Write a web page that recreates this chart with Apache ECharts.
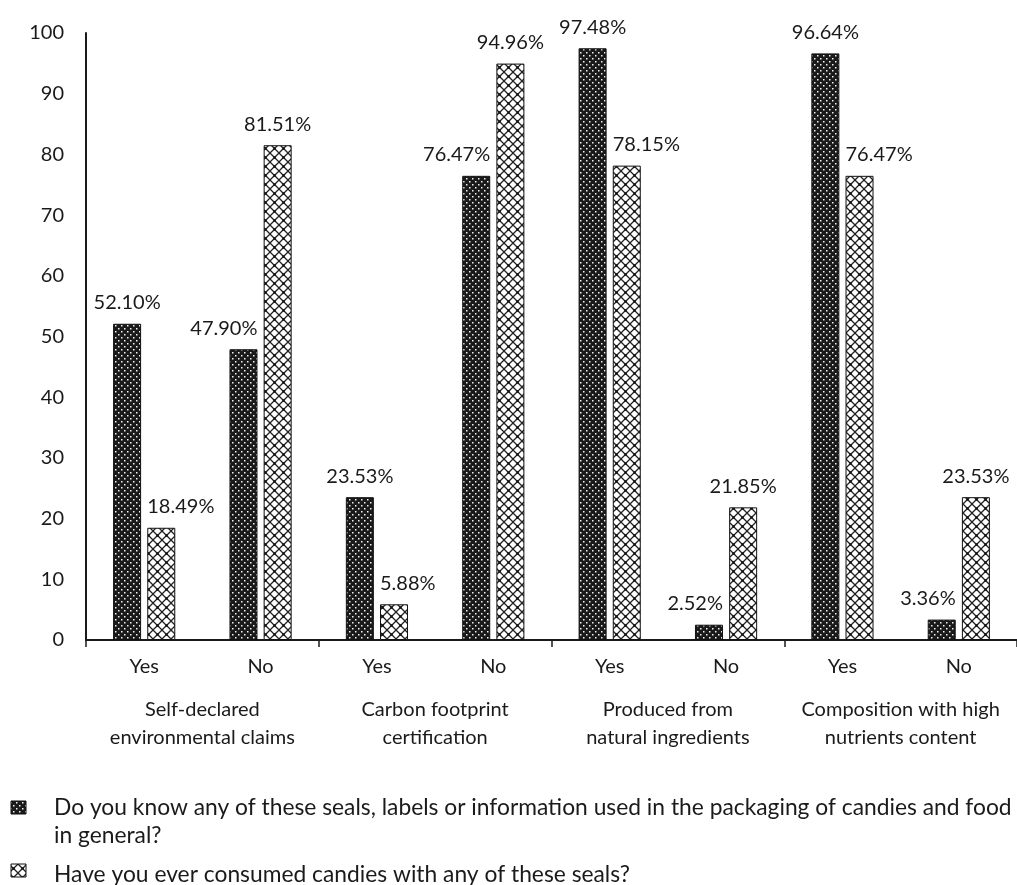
<!DOCTYPE html>
<html>
<head>
<meta charset="utf-8">
<script src="https://cdn.jsdelivr.net/npm/echarts@6/dist/echarts.min.js"></script>
<style>
  html, body { margin: 0; padding: 0; background: #fff; }
  #chart { width: 1017px; height: 885px; }
</style>
</head>
<body>
<div id="chart"></div>
<script>
// Answer categories (two per seal type) and seal type groups
const answers = ['Yes', 'No', 'Yes', 'No', 'Yes', 'No', 'Yes', 'No'];
const sealGroups = [
  'Self-declared\nenvironmental claims',
  'Carbon footprint\ncertification',
  'Produced from\nnatural ingredients',
  'Composition with high\nnutrients content'
];
// Percent of respondents
const knowSeals = [52.10, 47.90, 23.53, 76.47, 97.48, 2.52, 96.64, 3.36];
const consumedSeals = [18.49, 81.51, 5.88, 94.96, 78.15, 21.85, 76.47, 23.53];
const yTicks = { min: 0, max: 100, step: 10 };
const legendTexts = [
  'Do you know any of these seals, labels or information used in the packaging of candies and food\nin general?',
  'Have you ever consumed candies with any of these seals?'
];

const FONT = 'Lato';

// Dark fill with a staggered grid of white dots
function dotPattern() {
  const c = document.createElement('canvas');
  c.width = 6; c.height = 6;
  const g = c.getContext('2d');
  g.fillStyle = '#1a1a1a';
  g.fillRect(0, 0, 6, 6);
  g.fillStyle = '#f2f2f2';
  g.fillRect(1, 1, 1.5, 1.5);
  g.fillRect(4, 4, 1.5, 1.5);
  return c;
}

// White fill with a diagonal cross-hatch
function hatchPattern() {
  const s = 9;
  const c = document.createElement('canvas');
  c.width = s; c.height = s;
  const g = c.getContext('2d');
  g.fillStyle = '#ffffff';
  g.fillRect(0, 0, s, s);
  g.strokeStyle = '#222222';
  g.lineWidth = 1.3;
  g.beginPath();
  g.moveTo(0, 0); g.lineTo(s, s);
  g.moveTo(s, 0); g.lineTo(0, s);
  g.stroke();
  g.fillStyle = '#111';
  g.fillRect(s / 2 - 1.2, s / 2 - 1.2, 2.4, 2.4);
  return c;
}

const darkFill = { image: dotPattern(), repeat: 'repeat' };
const lightFill = { image: hatchPattern(), repeat: 'repeat' };

// A value label moves sideways, flush with its bar's outer edge,
// when the neighbouring bar of the same answer is taller.
function sideShift(seriesIndex, i) {
  const own = seriesIndex === 0 ? knowSeals[i] : consumedSeals[i];
  const other = seriesIndex === 0 ? consumedSeals[i] : knowSeals[i];
  if (other <= own) return 0;
  return seriesIndex === 0 ? -1 : 1;
}

const chart = echarts.init(document.getElementById('chart'), null, { renderer: 'canvas' });

const labelStyle = {
  show: true,
  position: 'top',
  distance: 11,
  fontFamily: FONT,
  fontSize: 20,
  color: '#1a1a1a',
  formatter: p => p.value.toFixed(2) + '%'
};

function labelLayout(params) {
  const side = sideShift(params.seriesIndex, params.dataIndex);
  const r = params.rect, lr = params.labelRect;
  if (side < 0) return { dx: (r.x + r.width) - (lr.x + lr.width) };
  if (side > 0) return { dx: r.x - lr.x };
  return {};
}

chart.setOption({
  backgroundColor: '#ffffff',
  animation: false,
  textStyle: { fontFamily: FONT },
  grid: { left: 86, right: -9, top: 33, bottom: 245, containLabel: false },
  xAxis: [
    {
      type: 'category',
      data: answers,
      position: 'bottom',
      axisLine: { show: true, lineStyle: { color: '#1a1a1a', width: 2 } },
      axisTick: { show: false },
      axisLabel: { interval: 0, fontFamily: FONT, fontSize: 20, color: '#1a1a1a', margin: 17 }
    },
    {
      type: 'category',
      data: sealGroups,
      position: 'bottom',
      axisLine: { show: false },
      axisTick: { show: true, interval: 0, length: 7, lineStyle: { color: '#1a1a1a', width: 1.5 } },
      axisLabel: { interval: 0, fontFamily: FONT, fontSize: 20, color: '#1a1a1a', margin: 56, lineHeight: 28 }
    }
  ],
  yAxis: {
    type: 'value',
    min: yTicks.min,
    max: yTicks.max,
    interval: yTicks.step,
    axisLine: { show: true, lineStyle: { color: '#1a1a1a', width: 2 } },
    axisTick: { show: false },
    splitLine: { show: false },
    axisLabel: { fontFamily: FONT, fontSize: 20, color: '#1a1a1a', margin: 22 }
  },
  series: [
    {
      name: legendTexts[0],
      type: 'bar',
      xAxisIndex: 0,
      data: knowSeals,
      barWidth: 28,
      barGap: '22%',
      itemStyle: { color: darkFill, borderColor: '#111', borderWidth: 1 },
      label: labelStyle,
      labelLayout: labelLayout
    },
    {
      name: legendTexts[1],
      type: 'bar',
      xAxisIndex: 0,
      data: consumedSeals,
      barWidth: 28,
      itemStyle: { color: lightFill, borderColor: '#111', borderWidth: 1 },
      label: labelStyle,
      labelLayout: labelLayout
    }
  ],
  graphic: [
    {
      type: 'rect',
      shape: { x: 11, y: 801, width: 15, height: 13 },
      style: { fill: darkFill, stroke: '#111', lineWidth: 1 }
    },
    {
      type: 'text',
      left: 54, top: 794,
      style: { text: legendTexts[0], font: '22.8px ' + FONT, fill: '#1a1a1a', lineHeight: 28 }
    },
    {
      type: 'rect',
      shape: { x: 11, y: 864, width: 15, height: 13 },
      style: { fill: lightFill, stroke: '#111', lineWidth: 1 }
    },
    {
      type: 'text',
      left: 54, top: 861,
      style: { text: legendTexts[1], font: '22.8px ' + FONT, fill: '#1a1a1a', lineHeight: 28 }
    }
  ]
});
</script>
</body>
</html>
